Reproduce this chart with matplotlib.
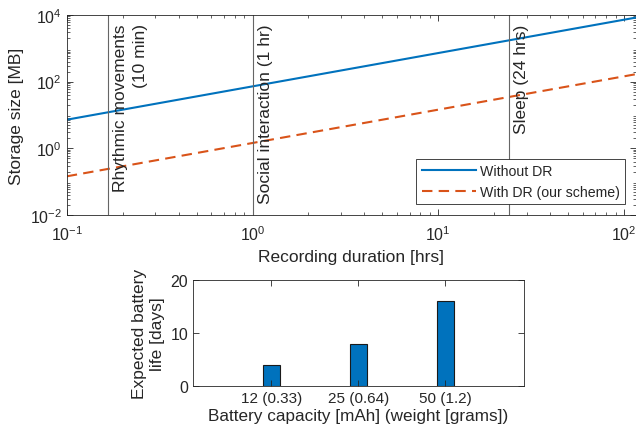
import numpy as np
import matplotlib
matplotlib.use("Agg")
import matplotlib.pyplot as plt

# storage vs recording duration
durations_hrs = [0.1, 1, 10, 100, 120]
storage_no_dr = [7.2, 72, 720, 7200, 8640]
storage_dr = [0.144, 1.44, 14.4, 144, 173]
series_labels = ["Without DR", "With DR (our scheme)"]

# behaviour markers
event_hrs = [1 / 6, 1, 24]
event_labels = ["Rhythmic movements\n(10 min)", "Social interaction (1 hr)", "Sleep (24 hrs)"]

# battery life bars
battery_labels = ["12 (0.33)", "25 (0.64)", "50 (1.2)"]
battery_days = [4, 8, 16]

plt.rcParams["font.family"] = ["Liberation Sans", "DejaVu Sans"]
plt.rcParams["mathtext.fontset"] = "custom"
plt.rcParams["mathtext.rm"] = "Liberation Sans"
plt.rcParams["mathtext.it"] = "Liberation Sans:italic"
plt.rcParams["mathtext.bf"] = "Liberation Sans:bold"
plt.rcParams["font.size"] = 11.5
txt = "#262626"
plt.rcParams["text.color"] = txt
plt.rcParams["axes.labelcolor"] = txt
plt.rcParams["xtick.color"] = txt
plt.rcParams["ytick.color"] = txt
plt.rcParams["axes.edgecolor"] = txt
plt.rcParams["axes.linewidth"] = 0.6

fig = plt.figure(figsize=(6.36, 4.31), dpi=100)

# --- top: storage size ---
ax = fig.add_axes([0.105, 0.499, 0.895, 0.464])
ax.loglog(durations_hrs, storage_no_dr, color="#0072BD", lw=1.5, label=series_labels[0])
ax.loglog(durations_hrs, storage_dr, color="#D95319", lw=1.5, ls=(0, (5, 3)),
          label=series_labels[1])
for x, lab in zip(event_hrs, event_labels):
    ax.axvline(x, color="#666666", lw=0.8)
    ax.text(x * 1.07, 10 ** 3.75, lab, rotation=90, ha="left", va="top",
            fontsize=12.5, linespacing=1.4, multialignment="right")
ax.set_xlim(0.1, 116)
ax.set_ylim(1e-2, 1e4)
ax.set_yticks([1e-2, 1e0, 1e2, 1e4])
ax.set_xticks([1e-1, 1e0, 1e1, 1e2])
ax.tick_params(which="both", direction="in", top=True, right=True)
ax.tick_params(which="major", length=4, width=0.6)
ax.tick_params(which="minor", length=2, width=0.5)
ax.tick_params(axis="x", pad=7)
ax.set_xlabel("Recording duration [hrs]", fontsize=12.5)
ax.set_ylabel("Storage size [MB]", fontsize=12.5)
leg = ax.legend(loc="lower right", fancybox=False, framealpha=1, edgecolor=txt,
                fontsize=10.2, handlelength=3.8, handletextpad=0.3,
                labelspacing=0.45, borderaxespad=0.75)
leg.get_frame().set_linewidth(0.6)

# --- bottom: battery life ---
bx = fig.add_axes([0.3035, 0.1014, 0.52, 0.247])
pos = np.arange(1, len(battery_days) + 1)
bx.bar(pos, battery_days, width=0.2, color="#0072BD", edgecolor="#1a1a1a", lw=0.8)
bx.set_xlim(0.1, 3.9)
bx.set_ylim(0, 20)
bx.set_yticks([0, 10, 20])
bx.set_xticks(pos)
bx.set_xticklabels(battery_labels, fontsize=11)
bx.tick_params(direction="in", top=True, right=True, length=4, width=0.6)
bx.set_xlabel("Battery capacity [mAh] (weight [grams])", fontsize=12.3, labelpad=2)
bx.set_ylabel("Expected battery\nlife [days]", fontsize=12.5, linespacing=1.25)

fig.savefig("out.png", dpi=100)
